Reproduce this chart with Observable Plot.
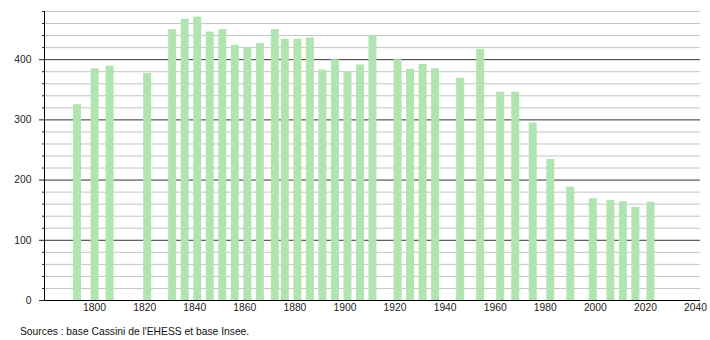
<!DOCTYPE html>
<html>
<head>
<meta charset="utf-8">
<script src="https://cdn.jsdelivr.net/npm/d3@7"></script>
<script src="https://cdn.jsdelivr.net/npm/@observablehq/plot@0.6"></script>
<style>
  body { margin: 0; background: #fff; font-family: "Liberation Sans", Arial, sans-serif; }
  #caption { font-size: 10.3px; color: #111; padding-left: 20px; margin-top: 5px; }
</style>
</head>
<body>
<div id="chart"></div>
<div id="caption">Sources : base Cassini de l'EHESS et base Insee.</div>
<script>
const years = [1793, 1800, 1806, 1821, 1831, 1836, 1841, 1846, 1851, 1856, 1861, 1866, 1872, 1876, 1881, 1886, 1891, 1896, 1901, 1906, 1911, 1921, 1926, 1931, 1936, 1946, 1954, 1962, 1968, 1975, 1982, 1990, 1999, 2006, 2011, 2016, 2022];
const population = [325, 385, 389, 377, 450, 467, 471, 446, 450, 424, 420, 427, 450, 434, 434, 436, 383, 400, 380, 391, 440, 400, 384, 392, 385, 369, 417, 346, 346, 295, 234, 188, 169, 166, 164, 155, 163];
const majorTicks = [0, 100, 200, 300, 400];
const minorTicks = [20, 40, 60, 80, 120, 140, 160, 180, 220, 240, 260, 280, 320, 340, 360, 380, 420, 440, 460, 480];
const xTicks = [1800, 1820, 1840, 1860, 1880, 1900, 1920, 1940, 1960, 1980, 2000, 2020, 2040];

const data = years.map((y, i) => ({year: y, pop: population[i]}));

const chart = Plot.plot({
  width: 710,
  height: 321,
  marginLeft: 44,
  marginRight: 10,
  marginTop: 11,
  marginBottom: 21,
  style: {fontFamily: "Liberation Sans, Arial, sans-serif", fontSize: "10.3px", color: "#222"},
  x: {domain: [1780, 2042]},
  y: {domain: [0, 480]},
  marks: [
    Plot.gridY(minorTicks, {stroke: "#c4c4c4", strokeOpacity: 1}),
    Plot.gridY(majorTicks.filter(d => d > 0), {stroke: "#333", strokeOpacity: 1}),
    Plot.ruleX(data, {x: "year", y1: 0, y2: "pop", stroke: "#b1e4b1", strokeWidth: 8}),
    Plot.axisY({ticks: minorTicks, tickSize: 2, text: null, label: null}),
    Plot.axisY({ticks: majorTicks, tickSize: 5, tickPadding: 8, label: null}),
    Plot.axisX({ticks: xTicks, tickSize: 0, tickPadding: 3, label: null, tickFormat: d => String(d)}),
    Plot.ruleX([1780], {stroke: "#000"}),
    Plot.ruleY([0], {stroke: "#000"})
  ]
});
document.getElementById("chart").appendChild(chart);
</script>
</body>
</html>
